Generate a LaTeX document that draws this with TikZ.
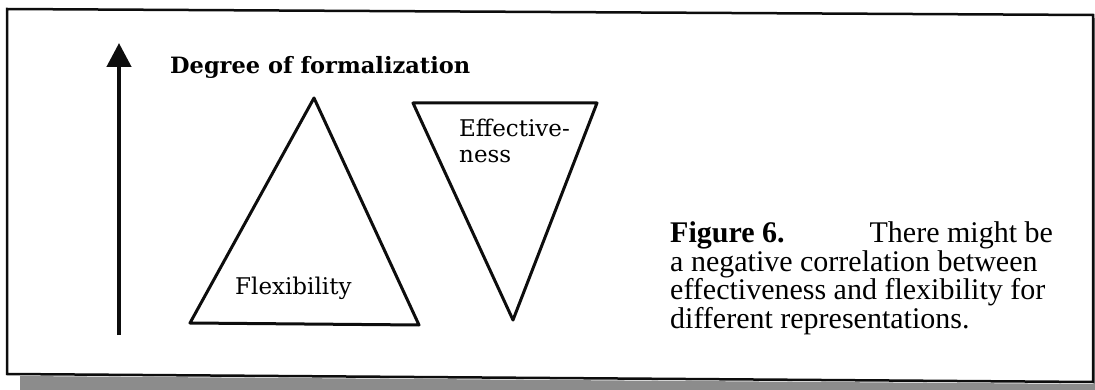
\documentclass[tikz,border=0pt]{standalone}
\usepackage{fontspec}
\setmainfont{Liberation Serif}
\newfontfamily\slabfont{DejaVu Serif}
\usetikzlibrary{arrows.meta}
\definecolor{ink}{gray}{0.05}
\definecolor{shadowgray}{gray}{0.55}
\tikzset{
  framebox/.style={draw=ink, line width=2.5pt, line join=miter},
  shadowband/.style={fill=shadowgray, draw=none},
  tribox/.style={draw=ink, line width=3pt, line join=round},
  axisarrow/.style={-{Triangle[length=24pt, width=24pt]}, line width=4.5pt, color=ink},
  tritext/.style={font=\slabfont\fontsize{23}{26}\selectfont, inner sep=0pt, anchor=base west, align=left},
  titletext/.style={font=\slabfont\bfseries\fontsize{22.5}{26}\selectfont, inner sep=0pt, anchor=base west},
  captext/.style={font=\fontsize{30}{28.5}\selectfont, inner sep=0pt, anchor=base west, align=left}
}

\begin{document}
\begin{tikzpicture}[x=1pt, y=-1pt]
    \useasboundingbox (0,0) rectangle (1095,390);

    % Shadow and frame
    \fill[shadowband] (20,376) -- (1095,384) -- (1095,390) -- (20,390) -- cycle;
    \fill[shadowband] (1094,18) rectangle (1095,384);
    \coordinate (tl) at (7,9);
    \coordinate (tr) at (1093,15);
    \coordinate (br) at (1093,382);
    \coordinate (bl) at (7,374);
    \draw[framebox] (tl) -- (tr) -- (br) -- (bl) -- cycle;

    % Axis
    \coordinate (axbase) at (119,335);
    \coordinate (axtip) at (119,43);
    \draw[axisarrow] (axbase) -- (axtip);
    \node[titletext] (degree) at (170,74) {Degree of formalization};

    % Triangles
    \coordinate (flexl) at (190,323);
    \coordinate (flexr) at (419,325);
    \coordinate (flext) at (314,98);
    \draw[tribox] (flexl) -- (flext) -- (flexr) -- cycle;
    \node[tritext] (flex) at (235,294) {Flexibility};

    \coordinate (effl) at (413,103);
    \coordinate (effr) at (597,103);
    \coordinate (effb) at (513,320);
    \draw[tribox] (effl) -- (effr) -- (effb) -- cycle;
    \node[tritext] (eff) at (459,163) {Effective-\\ness};

    % Caption (base = last line)
    \node[captext] (caption) at (670,328)
      {\textbf{Figure 6.}\hspace{85pt}There might be\\
       a negative correlation between\\
       effectiveness and flexibility for\\
       different representations.};
\end{tikzpicture}
\end{document}
